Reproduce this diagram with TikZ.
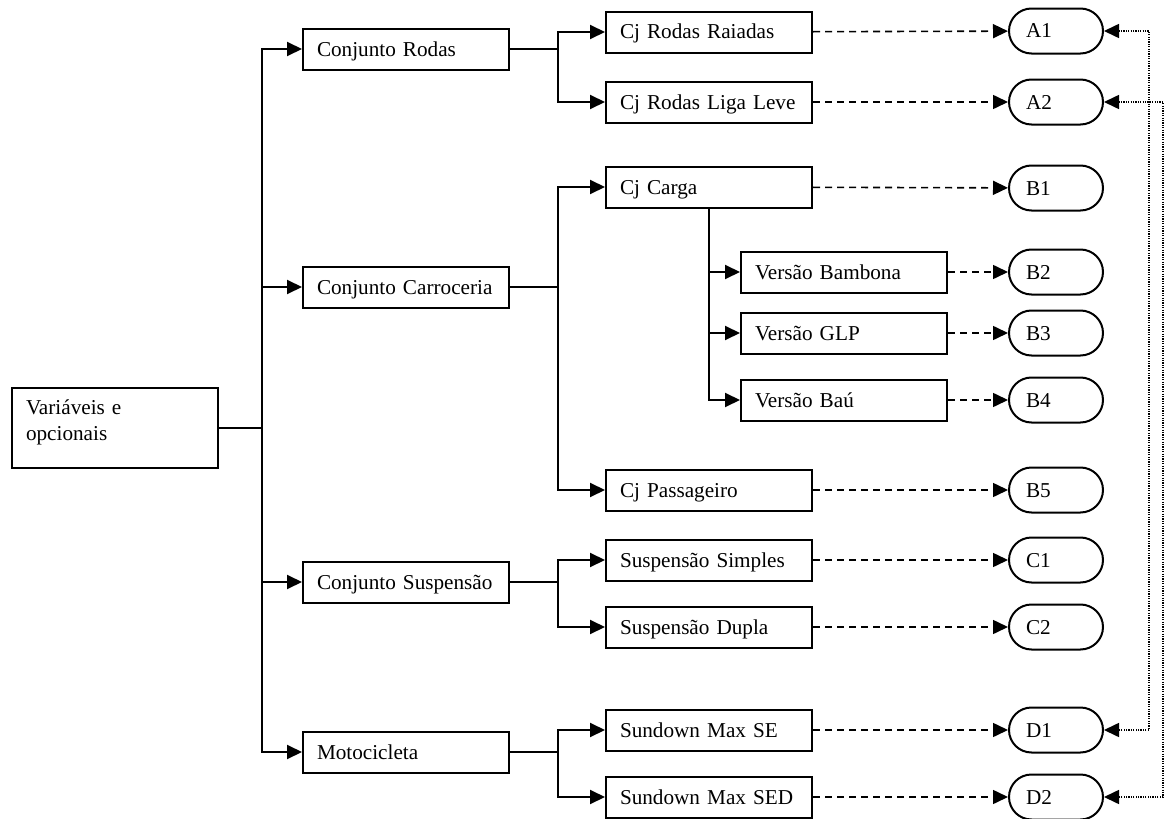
\documentclass[tikz,border=0pt]{standalone}
\usepackage{fontspec}
\setmainfont{Liberation Serif}
\usetikzlibrary{arrows.meta}
\tikzset{
	base/.style={draw, line width=1pt, text width=89pt, inner xsep=7pt, align=left, font=\fontsize{10.6}{12.7}\selectfont},
	caixa/.style={base, minimum height=20.5pt, text height=8pt, text depth=1pt},
	raiz/.style={base, minimum height=40pt},
	final/.style={draw, line width=1pt, rounded corners=11.25pt, minimum height=22.5pt, text width=30pt, inner xsep=8.5pt, align=left, text height=8pt, text depth=1pt, font=\fontsize{10.6}{12.7}\selectfont},
	seta/.style={line width=1pt, -{Triangle[length=7.5pt,width=7pt]}},
	tracejada/.style={seta, line width=0.8pt, dash pattern=on 3.5pt off 2.5pt},
	pontilhada/.style={line width=0.8pt, dash pattern=on 0.6pt off 0.6pt, {Triangle[length=7.5pt,width=7pt]}-{Triangle[length=7.5pt,width=7pt]}},
}

\begin{document}
\begin{tikzpicture}[x=0.5pt, y=-0.5pt]
		%%%%% START %%%%%
		\useasboundingbox (0, 0) rectangle (1164, 819);
		
		\node[raiz] (var) at (115, 428) {Variáveis e\\opcionais\\[-5pt]~};
		
		\node[caixa] (rodas) at (406, 49) {Conjunto Rodas};
		\node[caixa] (carroceria) at (406, 287) {Conjunto Carroceria};
		\node[caixa] (suspensao) at (406, 582) {Conjunto Suspensão};
		\node[caixa] (moto) at (406, 752) {Motocicleta};
		
		\node[caixa] (raiadas) at (709, 32) {Cj Rodas Raiadas};
		\node[caixa] (ligaleve) at (709, 102) {Cj Rodas Liga Leve};
		\node[caixa] (carga) at (709, 187) {Cj Carga};
		\node[caixa] (passageiro) at (709, 490) {Cj Passageiro};
		\node[caixa] (simples) at (709, 560) {Suspensão Simples};
		\node[caixa] (dupla) at (709, 627) {Suspensão Dupla};
		\node[caixa] (se) at (709, 730) {Sundown Max SE};
		\node[caixa] (sed) at (709, 797) {Sundown Max SED};
		
		\node[caixa] (bambona) at (844, 272) {Versão Bambona};
		\node[caixa] (glp) at (844, 333) {Versão GLP};
		\node[caixa] (bau) at (844, 400) {Versão Baú};
		
		\node[final] (a1) at (1056, 31) {A1};
		\node[final] (a2) at (1056, 102) {A2};
		\node[final] (b1) at (1056, 188) {B1};
		\node[final] (b2) at (1056, 272) {B2};
		\node[final] (b3) at (1056, 333) {B3};
		\node[final] (b4) at (1056, 400) {B4};
		\node[final] (b5) at (1056, 490) {B5};
		\node[final] (c1) at (1056, 560) {C1};
		\node[final] (c2) at (1056, 627) {C2};
		\node[final] (d1) at (1056, 730) {D1};
		\node[final] (d2) at (1056, 797) {D2};
		
		\draw[seta] (var.east) -- ++(43, 0) |- (rodas.west);
		\draw[seta] (var.east) -- ++(43, 0) |- (carroceria.west);
		\draw[seta] (var.east) -- ++(43, 0) |- (suspensao.west);
		\draw[seta] (var.east) -- ++(43, 0) |- (moto.west);
		
		\draw[seta] (rodas.east) -- ++(48, 0) |- (raiadas.west);
		\draw[seta] (rodas.east) -- ++(48, 0) |- (ligaleve.west);
		\draw[seta] (carroceria.east) -- ++(48, 0) |- (carga.west);
		\draw[seta] (carroceria.east) -- ++(48, 0) |- (passageiro.west);
		\draw[seta] (suspensao.east) -- ++(48, 0) |- (simples.west);
		\draw[seta] (suspensao.east) -- ++(48, 0) |- (dupla.west);
		\draw[seta] (moto.east) -- ++(48, 0) |- (se.west);
		\draw[seta] (moto.east) -- ++(48, 0) |- (sed.west);
		
		\draw[seta] (carga.south) |- (bambona.west);
		\draw[seta] (carga.south) |- (glp.west);
		\draw[seta] (carga.south) |- (bau.west);
		
		\draw[tracejada] (raiadas) -- (a1);
		\draw[tracejada] (ligaleve) -- (a2);
		\draw[tracejada] (carga) -- (b1);
		\draw[tracejada] (bambona) -- (b2);
		\draw[tracejada] (glp) -- (b3);
		\draw[tracejada] (bau) -- (b4);
		\draw[tracejada] (passageiro) -- (b5);
		\draw[tracejada] (simples) -- (c1);
		\draw[tracejada] (dupla) -- (c2);
		\draw[tracejada] (se) -- (d1);
		\draw[tracejada] (sed) -- (d2);
		
		\draw[pontilhada] (a1.east) -- ++(45, 0) |- (d1.east);
		\draw[pontilhada] (a2.east) -- ++(59, 0) |- (d2.east);
		
		%%%%% END %%%%%
	\end{tikzpicture}
\end{document}
